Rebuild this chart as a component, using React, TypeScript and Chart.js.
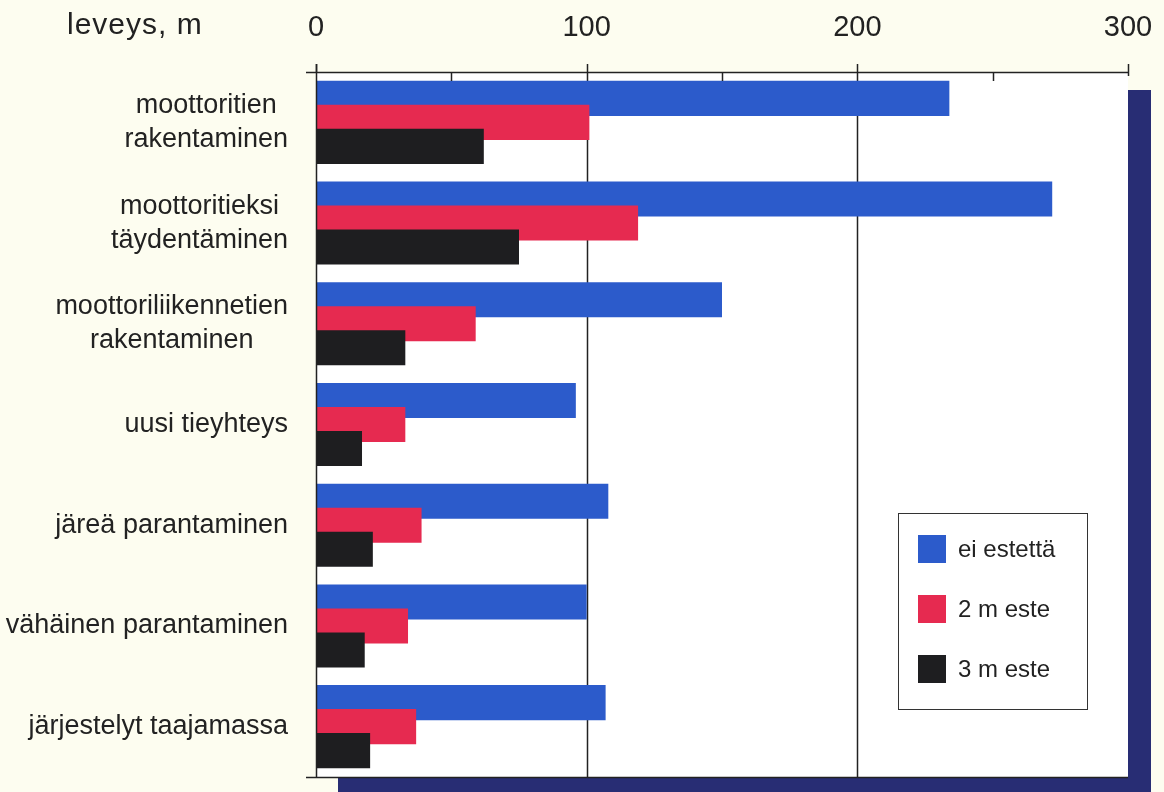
import { useEffect, useRef } from "react";
import { Chart, registerables } from "chart.js";

Chart.register(...registerables);

// Road-type categories (each entry is one label block, one line per string)
const categories: string[][] = [
  ["moottoritien", "rakentaminen"],
  ["moottoritieksi", "täydentäminen"],
  ["moottoriliikennetien", "rakentaminen"],
  ["uusi tieyhteys"],
  ["järeä parantaminen"],
  ["vähäinen parantaminen"],
  ["järjestelyt taajamassa"],
];

const seriesNames = ["ei estettä", "2 m este", "3 m este"];

// Width in metres per category
const noObstacle = [234, 272, 150, 96, 108, 100, 107];
const obstacle2m = [101, 119, 59, 33, 39, 34, 37];
const obstacle3m = [62, 75, 33, 17, 21, 18, 20];

const majorTicks = [0, 100, 200, 300];
const minorTicks = [50, 150, 250];
const gridValues = [100, 200];
const axisTitle = "leveys, m";

const FONT = "'Liberation Sans', Arial, Helvetica, sans-serif";
const CREAM = "#fdfdf0";
const NAVY = "#282d74";
const INK = "#222222";
const COLORS = ["#2c5bcb", "#e62a50", "#1e1e20"];

const framePlugin = {
  id: "frame",
  beforeDraw(chart: any) {
    const { ctx, chartArea: a, width, height } = chart;
    ctx.save();
    ctx.fillStyle = CREAM;
    ctx.fillRect(0, 0, width, height);
    // drop shadow behind the plot panel
    ctx.fillStyle = NAVY;
    ctx.fillRect(a.left + 22, a.top + 18, a.right - a.left + 1, a.bottom - a.top + 20);
    ctx.fillStyle = "#ffffff";
    ctx.fillRect(a.left, a.top, a.right - a.left, a.bottom - a.top);
    ctx.restore();
  },
  beforeDatasetsDraw(chart: any) {
    const { ctx, chartArea: a } = chart;
    const xs = chart.scales.x;
    ctx.save();
    ctx.strokeStyle = INK;
    ctx.lineWidth = 1.5;
    gridValues.forEach((v) => {
      const px = Math.round(xs.getPixelForValue(v)) + 0.5;
      ctx.beginPath();
      ctx.moveTo(px, a.top);
      ctx.lineTo(px, a.bottom);
      ctx.stroke();
    });
    ctx.restore();
    // later series are painted over earlier ones
    chart.getSortedVisibleDatasetMetas().forEach((meta: any) => meta.controller.draw());
    return false;
  },
  afterDraw(chart: any) {
    const { ctx, chartArea: a } = chart;
    const xs = chart.scales.x;
    const ys = chart.scales.y;
    ctx.save();
    ctx.strokeStyle = INK;
    ctx.lineWidth = 1.5;

    // axis frame lines
    ctx.beginPath();
    ctx.moveTo(a.left - 10, a.top + 0.5);
    ctx.lineTo(a.right, a.top + 0.5);
    ctx.moveTo(a.left + 0.5, a.top - 8);
    ctx.lineTo(a.left + 0.5, a.bottom);
    ctx.moveTo(a.left - 10, a.bottom + 0.5);
    ctx.lineTo(a.right, a.bottom + 0.5);
    ctx.stroke();

    // major ticks point up, minor ticks point down
    majorTicks.forEach((v, i) => {
      const px = Math.round(xs.getPixelForValue(v)) + 0.5;
      ctx.beginPath();
      ctx.moveTo(px, a.top - 8);
      ctx.lineTo(px, a.top + (i === majorTicks.length - 1 ? 4 : 0));
      ctx.stroke();
    });
    minorTicks.forEach((v) => {
      const px = Math.round(xs.getPixelForValue(v)) + 0.5;
      ctx.beginPath();
      ctx.moveTo(px, a.top);
      ctx.lineTo(px, a.top + 9);
      ctx.stroke();
    });

    // category labels: block right-aligned to the axis, lines centred within it
    ctx.fillStyle = INK;
    ctx.font = `27px ${FONT}`;
    ctx.textBaseline = "middle";
    ctx.textAlign = "center";
    const lineGap = 34;
    categories.forEach((lines, i) => {
      const cy = ys.getPixelForValue(i);
      const w = Math.max(...lines.map((l) => ctx.measureText(l).width));
      const cx = a.left - 28 - w / 2;
      lines.forEach((l, j) => {
        const y = cy + (j - (lines.length - 1) / 2) * lineGap;
        ctx.fillText(l, cx, y);
      });
    });

    // axis title on the tick-label row
    ctx.textAlign = "left";
    ctx.font = `30px ${FONT}`;
    (ctx as any).letterSpacing = "1px";
    ctx.fillText(axisTitle, 67, 26);
    (ctx as any).letterSpacing = "0px";

    // legend box
    const bx = a.right - 230;
    const by = a.bottom - 264;
    const bw = 189;
    const bh = 196;
    ctx.fillStyle = "#ffffff";
    ctx.fillRect(bx, by, bw, bh);
    ctx.lineWidth = 1;
    ctx.strokeStyle = "#333";
    ctx.strokeRect(bx + 0.5, by + 0.5, bw, bh);
    ctx.font = `24px ${FONT}`;
    chart.data.datasets.forEach((ds: any, i: number) => {
      const ry = by + 36 + i * 60;
      ctx.fillStyle = ds.backgroundColor;
      ctx.fillRect(bx + 20, ry - 14, 28, 28);
      ctx.fillStyle = INK;
      ctx.fillText(ds.label, bx + 60, ry + 1);
    });
    ctx.restore();
  },
};

export default function App() {
  const ref = useRef<HTMLCanvasElement | null>(null);

  useEffect(() => {
    if (!ref.current) return;
    const seriesValues = [noObstacle, obstacle2m, obstacle3m];
    const chart = new Chart(ref.current, {
      type: "bar",
      data: {
        labels: categories.map((c) => c.join(" ")),
        datasets: seriesNames.map((name, i) => ({
          label: name,
          data: seriesValues[i],
          backgroundColor: COLORS[i],
          borderWidth: 0,
          categoryPercentage: 0.715,
          barPercentage: 1.46,
        })),
      },
      options: {
        indexAxis: "y",
        responsive: false,
        animation: false,
        layout: { padding: { left: 316, right: 36, top: 8, bottom: 15 } },
        plugins: {
          legend: { display: false },
          tooltip: { enabled: false },
        },
        scales: {
          x: {
            position: "top",
            min: 0,
            max: 300,
            grid: { display: false, drawTicks: false },
            border: { display: false },
            afterFit: (s: any) => {
              s.height = 64;
              s.paddingLeft = 0;
              s.paddingRight = 0;
            },
            ticks: {
              stepSize: 100,
              padding: 27,
              color: INK,
              font: { family: FONT, size: 29 },
            },
          },
          y: {
            type: "category",
            display: false,
            grid: { display: false },
          },
        },
      },
      plugins: [framePlugin],
    } as any);
    return () => chart.destroy();
  }, []);

  return (
    <div
      style={{
        position: "absolute",
        left: 0,
        top: 0,
        width: 1164,
        height: 792,
        background: CREAM,
      }}
    >
      <canvas ref={ref} width={1164} height={792} />
    </div>
  );
}
